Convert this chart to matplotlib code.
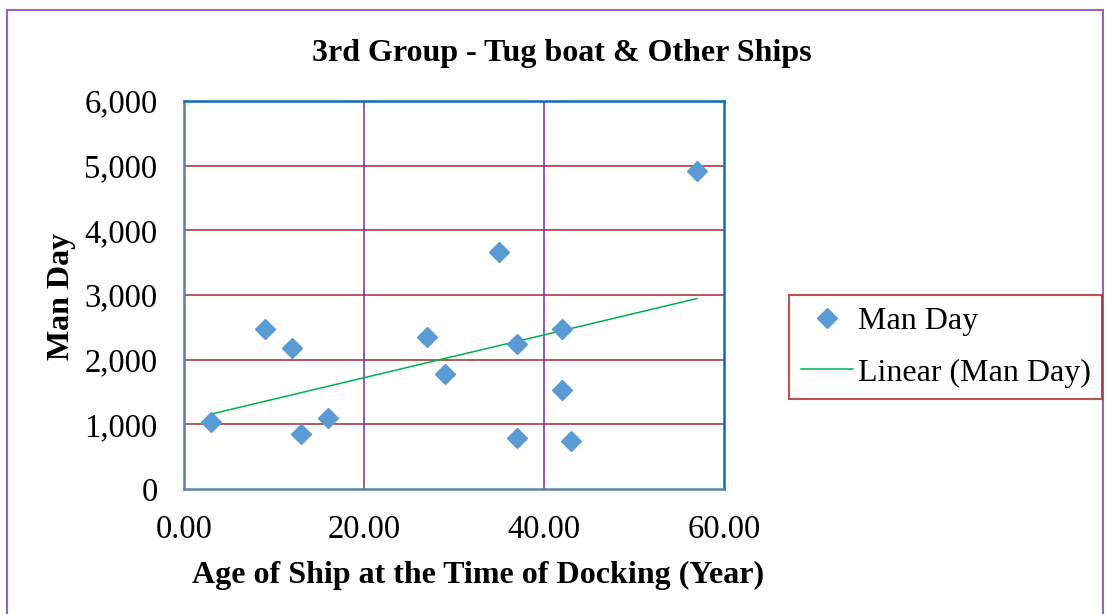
import numpy as np
import matplotlib
matplotlib.use("Agg")
import matplotlib.pyplot as plt
from matplotlib.patches import Rectangle
from matplotlib.ticker import FuncFormatter

age = [3, 9, 12, 13, 16, 27, 29, 35, 37, 37, 42, 42, 43, 57]
man_day = [1040, 2470, 2180, 850, 1100, 2350, 1780, 3660, 2240, 790, 2480, 1530, 740, 4920]

title = "3rd Group - Tug boat & Other Ships"
xlabel = "Age of Ship at the Time of Docking (Year)"
ylabel = "Man Day"
series_name = "Man Day"
trend_name = "Linear (Man Day)"

plt.rcParams['font.family'] = ['Liberation Serif', 'DejaVu Serif']

W, H = 1106, 614
fig = plt.figure(figsize=(W/100, H/100), dpi=100)
ax = fig.add_axes([184/W, 1-489/H, (724-184)/W, (489-101)/H])

# figure border
fig.patches.append(Rectangle((7/W, -0.05), (1103-7)/W, 1.05-10/H, transform=fig.transFigure,
                             fill=False, edgecolor='#9B5FC0', linewidth=1.5))

ax.set_xlim(0, 60)
ax.set_ylim(0, 6000)
ax.set_xticks([0, 20, 40, 60])
ax.set_yticks(range(0, 6001, 1000))
ax.xaxis.set_major_formatter(FuncFormatter(lambda v, p: f"{v:.2f}"))
ax.yaxis.set_major_formatter(FuncFormatter(lambda v, p: f"{int(v):,}"))
ax.tick_params(axis='both', length=0, labelsize=23.5)
ax.tick_params(axis='x', pad=18)
ax.tick_params(axis='y', pad=19)

for y in range(1000, 6000, 1000):
    ax.axhline(y, color='#A52A2A', linewidth=1.1, zorder=1)
for x in [20, 40]:
    ax.axvline(x, color='#7030A0', linewidth=1.1, zorder=1)

ax.spines['top'].set_color('#0B6DB7')
ax.spines['right'].set_color('#0B6DB7')
ax.spines['left'].set_color('#5A83A6')
ax.spines['bottom'].set_color('#5A83A6')
for s in ax.spines.values():
    s.set_linewidth(1.8)

sc, = ax.plot(age, man_day, linestyle='none', marker='D', markersize=10,
              color='#5B9BD5', zorder=3, label=series_name)

coef = np.polyfit(age, man_day, 1)
xs = np.array([min(age), max(age)])
tl, = ax.plot(xs, np.polyval(coef, xs), color='#00B050', linewidth=1.1, zorder=2, label=trend_name)

leg = fig.legend(handles=[sc, tl], loc='upper left', bbox_to_anchor=(789/W, 1-295/H),
                 borderaxespad=0, fontsize=23, frameon=True, fancybox=False, borderpad=0.36,
                 handlelength=1.65, handletextpad=0.15, labelspacing=0.7)
leg.get_frame().set_edgecolor('#A52A2A')
leg.get_frame().set_linewidth(1.5)

fig.text(562/W, 1-54/H, title, ha='center', va='center', fontsize=23, fontweight='bold')
fig.text(478/W, 1-575/H, xlabel, ha='center', va='center', fontsize=23, fontweight='bold')
fig.text(62/W, 1-296/H, ylabel, ha='center', va='center', fontsize=23, fontweight='bold', rotation=90)

fig.savefig("out.png", dpi=100)
